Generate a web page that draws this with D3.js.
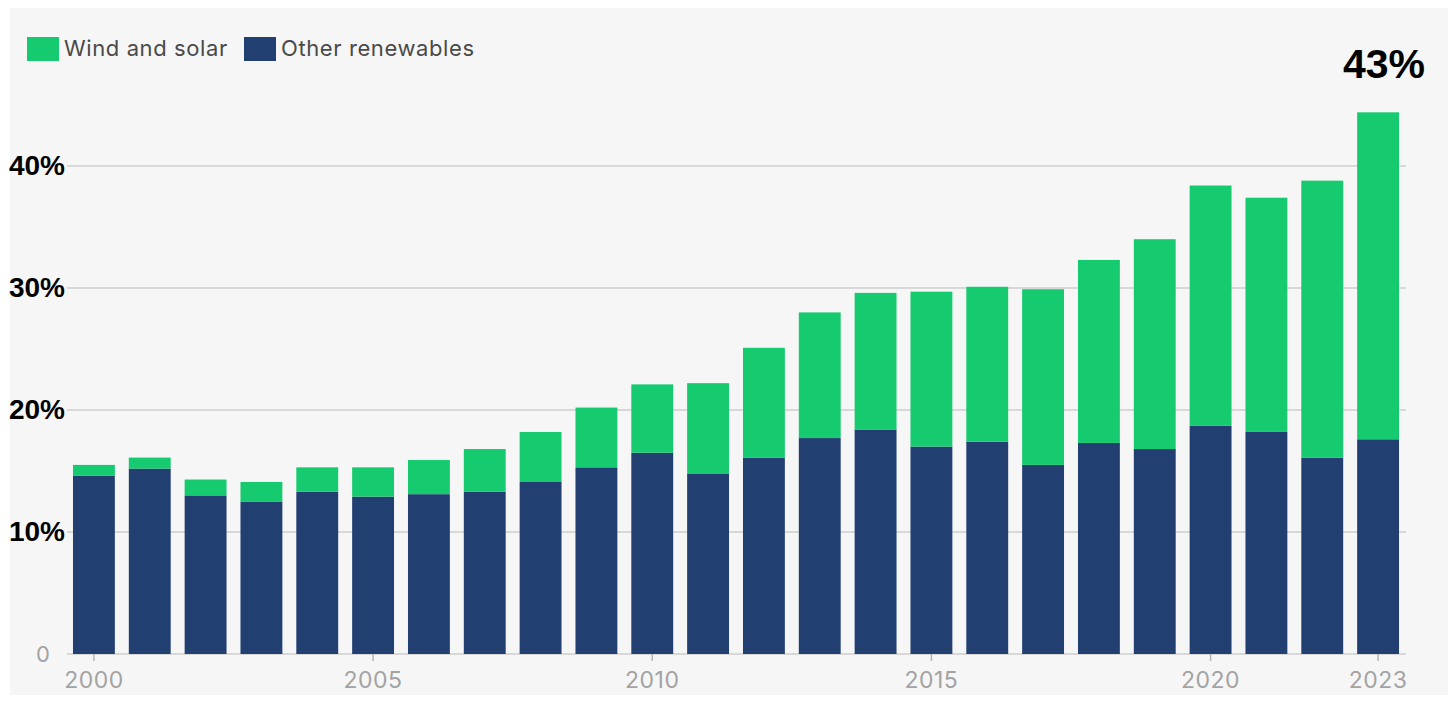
<!DOCTYPE html>
<html lang="en">

<head>
    <meta charset="UTF-8">
    <title>Renewables share</title>
    <script src="https://d3js.org/d3.v7.min.js"></script>
    <style>
        body {
            margin: 0;
            background: #ffffff;
        }

        svg {
            display: block;
        }
    </style>
</head>

<body>
    <svg width="1448" height="701"></svg>

    <script>
        // data (share of electricity, %)
        var years = ["2000", "2001", "2002", "2003", "2004", "2005", "2006", "2007", "2008", "2009", "2010", "2011",
            "2012", "2013", "2014", "2015", "2016", "2017", "2018", "2019", "2020", "2021", "2022", "2023"];
        var otherRenewables = [14.6, 15.2, 13.0, 12.5, 13.3, 12.9, 13.1, 13.3, 14.1, 15.3, 16.5, 14.8,
            16.1, 17.7, 18.4, 17.0, 17.4, 15.5, 17.3, 16.8, 18.7, 18.2, 16.1, 17.6];
        var windSolar = [0.9, 0.9, 1.3, 1.6, 2.0, 2.4, 2.8, 3.5, 4.1, 4.9, 5.6, 7.4,
            9.0, 10.3, 11.2, 12.7, 12.7, 14.4, 15.0, 17.2, 19.7, 19.2, 22.7, 26.8];
        var yTicks = [0, 10, 20, 30, 40];
        var xTickYears = ["2000", "2005", "2010", "2015", "2020", "2023"];
        var seriesNames = ["Wind and solar", "Other renewables"];
        var headline = "43%";

        var green = "#16cb6f";
        var navy = "#213f70";

        var svg = d3.select("svg");

        // grey panel
        svg.append("rect")
            .attr("x", 10).attr("y", 8)
            .attr("width", 1438).attr("height", 687)
            .attr("fill", "#f6f6f6");

        var rows = years.map(function (y, i) {
            return { year: y, other: otherRenewables[i], wind: windSolar[i] };
        });

        var stack = d3.stack().keys(["other", "wind"])(rows);

        var xScale = d3.scaleBand()
            .domain(years)
            .range([66, 1406])
            .paddingInner(0.25)
            .paddingOuter(0.125);

        var yScale = d3.scaleLinear()
            .domain([0, 40])
            .range([654, 166]);

        // gridlines
        svg.append("g")
            .selectAll("line")
            .data(yTicks)
            .join("line")
            .attr("x1", 67)
            .attr("x2", 1406)
            .attr("y1", d => yScale(d))
            .attr("y2", d => yScale(d))
            .attr("stroke", "#d8d8d8")
            .attr("stroke-width", 2);

        // bars
        var colors = { other: navy, wind: green };
        svg.append("g")
            .selectAll("g")
            .data(stack)
            .join("g")
            .attr("fill", d => colors[d.key])
            .selectAll("rect")
            .data(d => d)
            .join("rect")
            .attr("x", d => xScale(d.data.year))
            .attr("y", d => yScale(d[1]))
            .attr("width", xScale.bandwidth())
            .attr("height", d => yScale(d[0]) - yScale(d[1]));

        // x axis
        var xAxis = svg.append("g")
            .attr("transform", "translate(0,654)")
            .call(d3.axisBottom(xScale).tickValues(xTickYears).tickSize(7).tickPadding(11));
        xAxis.select(".domain").remove();
        xAxis.selectAll(".tick line").attr("stroke", "#b5b5b5").attr("stroke-width", 1.5);
        xAxis.selectAll(".tick text")
            .attr("fill", "#a3a3a3")
            .style("font-family", "Inter, 'Open Sans', sans-serif")
            .style("font-size", "23px")
            .style("letter-spacing", "0.5px");

        // y axis labels
        var yAxis = svg.append("g")
            .attr("transform", "translate(65,0)")
            .call(d3.axisLeft(yScale).tickValues(yTicks).tickSize(0).tickPadding(0)
                .tickFormat(d => d === 0 ? "0" : d + "%"));
        yAxis.select(".domain").remove();
        yAxis.selectAll(".tick text")
            .attr("fill", d => d === 0 ? "#a3a3a3" : "#000")
            .attr("x", d => d === 0 ? -15 : 0)
            .style("font-family", d => d === 0 ? "Inter, sans-serif" : "'Liberation Sans', Arial, sans-serif")
            .style("font-weight", d => d === 0 ? "normal" : "bold")
            .style("font-size", d => d === 0 ? "22px" : "28px");

        // legend
        var legend = svg.append("g").attr("transform", "translate(27,37)");
        var legendX = [0, 217];
        var legendColors = [green, navy];
        seriesNames.forEach(function (name, i) {
            var g = legend.append("g").attr("transform", "translate(" + legendX[i] + ",0)");
            g.append("rect").attr("width", 32).attr("height", 24).attr("fill", legendColors[i]);
            g.append("text")
                .attr("x", 37)
                .attr("y", 19)
                .attr("fill", "#4a4a4a")
                .style("font-family", "Inter, sans-serif")
                .style("font-size", "22px")
                .style("letter-spacing", "0.6px")
                .text(name);
        });

        // headline value
        svg.append("text")
            .attr("x", 1384)
            .attr("y", 78)
            .attr("text-anchor", "middle")
            .attr("fill", "#000")
            .style("font-family", "'Liberation Sans', Arial, sans-serif")
            .style("font-weight", "bold")
            .style("font-size", "41px")
            .text(headline);
    </script>
</body>

</html>
